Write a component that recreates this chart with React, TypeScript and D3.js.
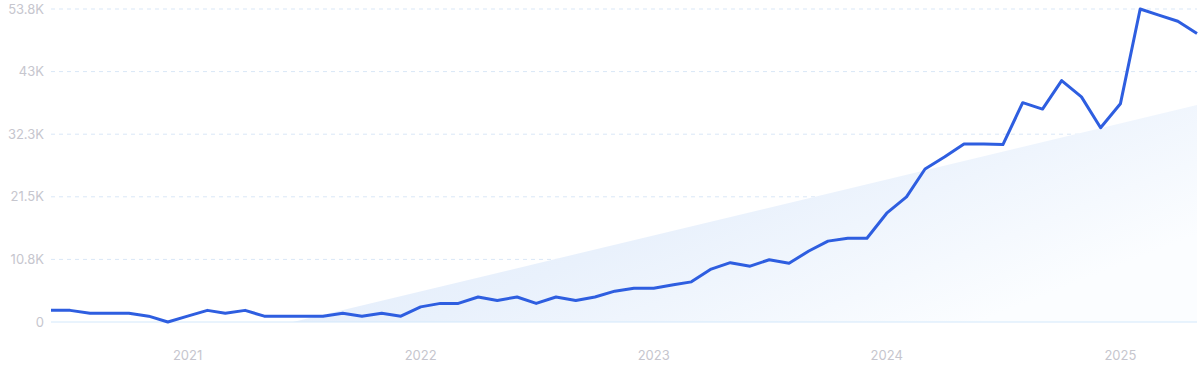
import React, { useRef, useEffect } from "react";
import * as d3 from "d3";

// monthly values, Jun 2020 .. May 2025
const startMonth = "2020-06-01";
const values = [
  2000, 2000, 1500, 1500, 1500, 1000, 0,
  1000, 2000, 1500, 2000, 1000, 1000, 1000, 1000, 1500, 1000, 1500, 1000,
  2600, 3200, 3200, 4300, 3700, 4300, 3200, 4300, 3700, 4300, 5300, 5800,
  5800, 6400, 6900, 9100, 10200, 9600, 10700, 10100, 12200, 13900, 14400, 14400,
  18700, 21500, 26300, 28400, 30600, 30600, 30500, 37700, 36600, 41500, 38700, 33400,
  37500, 53800, 52800, 51700, 49600,
];

const yTicks = [0, 10760, 21520, 32280, 43040, 53800];
const yTickLabels = ["0", "10.8K", "21.5K", "32.3K", "43K", "53.8K"];
const xTickYears = [2021, 2022, 2023, 2024, 2025];

// trend band: from zero to the last month
const trendDates = ["2021-06-15", "2025-05-01"];
const trendValues = [0, 37300];

export default function App() {
  const ref = useRef<SVGSVGElement>(null);

  useEffect(() => {
    const svg = d3.select(ref.current);
    svg.selectAll("*").remove();

    const width = 1200;
    const height = 371;
    const left = 51;
    const right = 1197;
    const top = 9;
    const bottom = 322;

    const start = new Date(startMonth + "T00:00:00");
    const data = values.map((v, i) => ({
      date: new Date(start.getFullYear(), start.getMonth() + i, 1),
      value: v,
    }));

    const x = d3.scaleTime()
      .domain([data[0].date, data[data.length - 1].date])
      .range([left, right]);

    const y = d3.scaleLinear().domain([0, 53800]).range([bottom, top]);

    svg.attr("width", width).attr("height", height);

    const defs = svg.append("defs");
    const grad = defs.append("linearGradient")
      .attr("id", "trendGrad")
      .attr("x1", "0%").attr("y1", "0%")
      .attr("x2", "100%").attr("y2", "60%");
    grad.append("stop").attr("offset", "0%").attr("stop-color", "#dde9fb");
    grad.append("stop").attr("offset", "55%").attr("stop-color", "#e9f1fc");
    grad.append("stop").attr("offset", "100%").attr("stop-color", "#fbfdff");

    // gridlines
    svg.append("g")
      .selectAll("line")
      .data(yTicks.slice(1))
      .enter()
      .append("line")
      .attr("x1", left)
      .attr("x2", right)
      .attr("y1", d => y(d))
      .attr("y2", d => y(d))
      .attr("stroke", "#d9e7f7")
      .attr("stroke-width", 1)
      .attr("stroke-dasharray", "4,4");

    // trend area
    const t0 = new Date(trendDates[0] + "T00:00:00");
    const t1 = new Date(trendDates[1] + "T00:00:00");
    const trendPts: [number, number][] = [
      [x(t0), y(trendValues[0])],
      [x(t1), y(trendValues[1])],
      [x(t1), y(0)],
    ];
    svg.append("path")
      .attr("d", "M" + trendPts.map(p => p.join(",")).join("L") + "Z")
      .attr("fill", "url(#trendGrad)");

    // baseline
    svg.append("line")
      .attr("x1", left)
      .attr("x2", right)
      .attr("y1", y(0))
      .attr("y2", y(0))
      .attr("stroke", "#d3e8fb")
      .attr("stroke-width", 1);

    // y labels
    svg.append("g")
      .selectAll("text")
      .data(yTicks)
      .enter()
      .append("text")
      .attr("x", 44)
      .attr("y", d => y(d))
      .attr("dy", "0.35em")
      .attr("text-anchor", "end")
      .attr("fill", "#c6c6ce")
      .style("font-family", "Inter, 'Open Sans', sans-serif")
      .style("font-size", "13px")
      .text((d, i) => yTickLabels[i]);

    // x labels
    svg.append("g")
      .selectAll("text")
      .data(xTickYears)
      .enter()
      .append("text")
      .attr("x", d => x(new Date(d, 0, 1)))
      .attr("y", 355)
      .attr("dy", "0.35em")
      .attr("text-anchor", "middle")
      .attr("fill", "#c6c6ce")
      .style("font-family", "Inter, 'Open Sans', sans-serif")
      .style("font-size", "13px")
      .text(d => String(d));

    // line
    const line = d3.line<{ date: Date; value: number }>()
      .x(d => x(d.date))
      .y(d => y(d.value));

    svg.append("path")
      .datum(data)
      .attr("d", line)
      .attr("fill", "none")
      .attr("stroke", "#2e5ee0")
      .attr("stroke-width", 3)
      .attr("stroke-linejoin", "round");
  }, []);

  return (
    <div style={{ position: "absolute", left: 0, top: 0 }}>
      <svg ref={ref} style={{ display: "block" }}></svg>
    </div>
  );
}
